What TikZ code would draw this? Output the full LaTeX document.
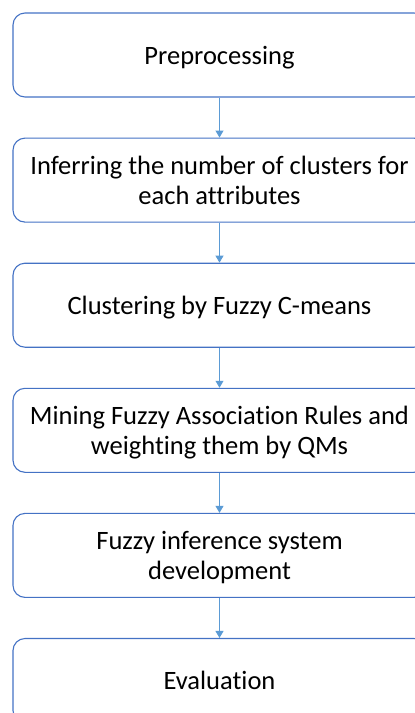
\documentclass[tikz,border=0pt]{standalone}
\usepackage{fontspec}
\setmainfont[Ligatures={NoCommon}]{Carlito}
\usepackage{xcolor}
\usepackage{tikz}
\usetikzlibrary{arrows.meta,positioning}

\definecolor{stageline}{HTML}{4472C4}
\definecolor{flowline}{HTML}{5B9BD5}
\tikzset{
  stage/.style={draw=stageline, line width=1.1pt, rounded corners=12pt,
    minimum width=413pt, minimum height=84pt, inner sep=0pt, text depth=0pt,
    align=center, font=\fontsize{26.5}{30}\selectfont},
  flow/.style={draw=flowline, line width=0.9pt, -{Triangle[length=7pt,width=8pt]}}
}

\begin{document}
\begin{tikzpicture}
    % picture is cut off on the right and at the bottom
    \useasboundingbox (0,0) rectangle (415pt,-713pt);
    \clip (0,0) rectangle (415pt,-713pt);
    \node[stage] (prep) at (219.5pt,-55pt) {Preprocessing};
    \node[stage, below=40pt of prep] (nclust) {Inferring the number of clusters for\\each attributes};
    \node[stage, below=40pt of nclust] (fcm) {Clustering by Fuzzy C-means};
    \node[stage, below=40pt of fcm] (rules) {Mining Fuzzy Association Rules and\\weighting them by QMs};
    \node[stage, below=40pt of rules] (fis) {Fuzzy inference system\\development};
    \node[stage, below=40pt of fis] (eval) {Evaluation};
    \draw[flow] (prep) -- (nclust);
    \draw[flow] (nclust) -- (fcm);
    \draw[flow] (fcm) -- (rules);
    \draw[flow] (rules) -- (fis);
    \draw[flow] (fis) -- (eval);
  \end{tikzpicture}
\end{document}
